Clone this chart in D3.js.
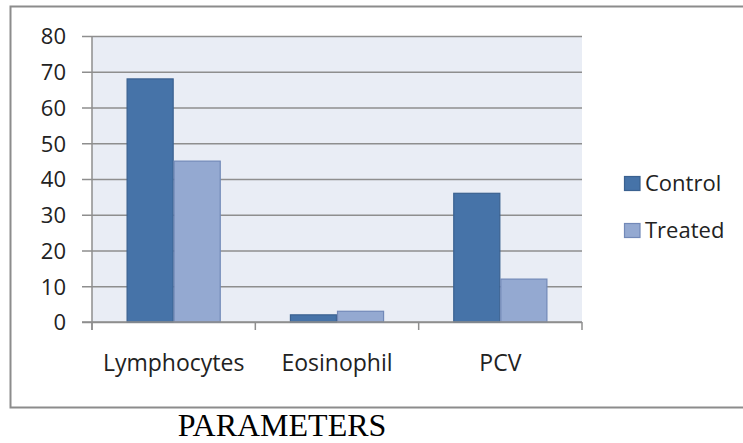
<!DOCTYPE html>
<html>
<head>
<meta charset="utf-8">
<script src="https://cdn.jsdelivr.net/npm/d3@7"></script>
<style>
  html, body { margin: 0; padding: 0; background: #fff; }
  svg { display: block; }
</style>
</head>
<body>
<svg id="chart" width="743" height="443"></svg>
<script>
const categories = ["Lymphocytes", "Eosinophil", "PCV"];
const seriesNames = ["Control", "Treated"];
const controlValues = [68, 2, 36];
const treatedValues = [45, 3, 12];
const yTicks = [0, 10, 20, 30, 40, 50, 60, 70, 80];
const xTitle = "PARAMETERS";

const colors = { Control: "#4673a8", Treated: "#94a9d1" };
const strokes = { Control: "#3a6190", Treated: "#7289b8" };
const seriesValues = { Control: controlValues, Treated: treatedValues };

const svg = d3.select("#chart");
const plot = { left: 92, right: 582, top: 36, bottom: 322 };
const labelFont = "'Open Sans', 'DejaVu Sans', sans-serif";

// outer border (right side is off-canvas)
svg.append("path")
  .attr("d", "M 760 6.5 H 10.5 V 407.5 H 760")
  .attr("fill", "none")
  .attr("stroke", "#8c8c8c")
  .attr("stroke-width", 2);

const x = d3.scaleBand().domain(categories).range([plot.left, plot.right]).paddingInner(0).paddingOuter(0);
const xInner = d3.scaleBand().domain(seriesNames).range([0, x.bandwidth()]).paddingInner(0).paddingOuter(0.735);
const y = d3.scaleLinear().domain([0, 80]).range([plot.bottom, plot.top]);

// plot background
svg.append("rect")
  .attr("x", plot.left).attr("y", plot.top)
  .attr("width", plot.right - plot.left).attr("height", plot.bottom - plot.top)
  .attr("fill", "#e9edf5");

// gridlines + y ticks
const yAxis = d3.axisLeft(y).tickValues(yTicks).tickSize(-(plot.right - plot.left)).tickPadding(26).tickSizeOuter(0);
const yG = svg.append("g").attr("transform", `translate(${plot.left},0)`).call(yAxis);
yG.select(".domain").remove();
yG.selectAll(".tick line")
  .attr("x1", -10)
  .attr("stroke", "#8e8e8e").attr("stroke-width", 1.5);
yG.selectAll(".tick text")
  .attr("font-family", labelFont).attr("font-size", 22).attr("fill", "#222")
  .attr("dy", "0.36em");

// y axis line
svg.append("line")
  .attr("x1", plot.left).attr("x2", plot.left)
  .attr("y1", plot.top).attr("y2", plot.bottom + 8)
  .attr("stroke", "#8e8e8e").attr("stroke-width", 1.5);

// bars
const groups = svg.append("g").selectAll("g").data(categories).join("g")
  .attr("transform", d => `translate(${x(d)},0)`);
groups.selectAll("rect")
  .data((c, i) => seriesNames.map(s => ({ s, v: seriesValues[s][i] })))
  .join("rect")
  .attr("x", d => xInner(d.s) + 0.5)
  .attr("width", xInner.bandwidth() - 1)
  .attr("y", d => y(d.v))
  .attr("height", d => y(0) - y(d.v))
  .attr("fill", d => colors[d.s])
  .attr("stroke", d => strokes[d.s])
  .attr("stroke-width", 1.2);

// x axis
const xAxis = d3.axisBottom(x).tickSize(0).tickPadding(0);
const xG = svg.append("g").attr("transform", `translate(0,${plot.bottom})`).call(xAxis);
xG.select(".domain").remove();
xG.selectAll(".tick text")
  .attr("font-family", labelFont).attr("font-size", 23).attr("fill", "#222")
  .attr("dy", 0).attr("y", 49);

svg.append("line")
  .attr("x1", plot.left - 10).attr("x2", plot.right)
  .attr("y1", plot.bottom).attr("y2", plot.bottom)
  .attr("stroke", "#8e8e8e").attr("stroke-width", 1.5);

// category boundary ticks
const bounds = categories.map(c => x(c) + x.bandwidth()).concat([x(categories[0])]);
svg.append("g").selectAll("line").data(bounds).join("line")
  .attr("x1", d => d).attr("x2", d => d)
  .attr("y1", plot.bottom).attr("y2", plot.bottom + 8)
  .attr("stroke", "#8e8e8e").attr("stroke-width", 1.5);

// legend
const legend = svg.append("g").selectAll("g").data(seriesNames).join("g")
  .attr("transform", (d, i) => `translate(624,${176 + i * 47})`);
legend.append("rect")
  .attr("x", 0.5).attr("y", 0.5).attr("width", 15.5).attr("height", 14)
  .attr("fill", d => colors[d]).attr("stroke", d => strokes[d]).attr("stroke-width", 1.2);
legend.append("text")
  .attr("x", 21).attr("y", 15)
  .attr("font-family", labelFont).attr("font-size", 22).attr("fill", "#222")
  .text(d => d);

// x title
svg.append("text")
  .attr("x", 282).attr("y", 436)
  .attr("text-anchor", "middle")
  .attr("font-family", "'Liberation Serif', 'Times New Roman', serif")
  .attr("font-size", 32).attr("fill", "#000")
  .text(xTitle);
</script>
</body>
</html>
